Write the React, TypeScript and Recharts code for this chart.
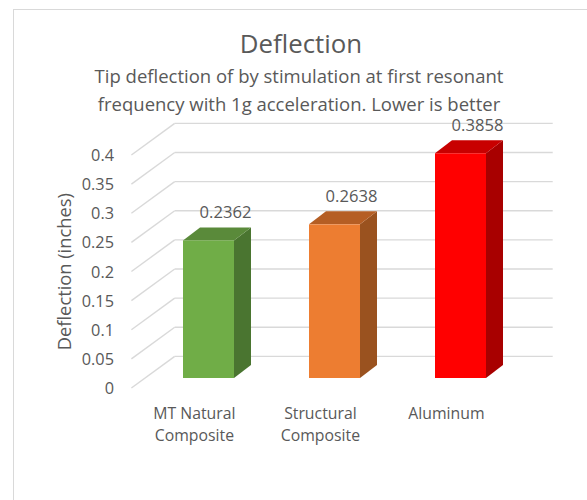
import React from 'react';
import { BarChart, Bar, XAxis, YAxis, CartesianGrid, LabelList } from 'recharts';

const categories = ['MT Natural Composite', 'Structural Composite', 'Aluminum'];
const labelLines = [['MT Natural', 'Composite'], ['Structural', 'Composite'], ['Aluminum']];
const deflection = [0.2362, 0.2638, 0.3858];
const yTicks = [0, 0.05, 0.1, 0.15, 0.2, 0.25, 0.3, 0.35, 0.4];

const data = categories.map((name, i) => ({ name, value: deflection[i] }));

const W = 587;
const H = 500;
const FONT = '"Open Sans", sans-serif';
const TEXT = '#595959';
const GRID = '#d9d9d9';

// oblique offsets relative to the plane the bars stand in
const FRONT = { dx: -13.6, dy: 10 };
const BACK = { dx: 29.7, dy: -21.6 };
const DEPTH = { dx: 17, dy: 13 };

const faces = [
  { front: '#70AD47', top: '#5A8A3A', side: '#4A7530' },
  { front: '#ED7D31', top: '#B55E24', side: '#9A521F' },
  { front: '#FF0000', top: '#C80000', side: '#A80000' },
];

const Bar3D = (p: any) => {
  const { x, y, width: w, height: h } = p;
  const c = faces[categories.indexOf(p.payload?.name)] ?? faces[0];
  const { dx, dy } = DEPTH;
  return (
    <g>
      <polygon points={`${x + w},${y} ${x + w + dx},${y - dy} ${x + w + dx},${y + h - dy} ${x + w},${y + h}`} fill={c.side} />
      <polygon points={`${x},${y} ${x + dx},${y - dy} ${x + w + dx},${y - dy} ${x + w},${y}`} fill={c.top} />
      <rect x={x} y={y} width={w} height={h} fill={c.front} />
    </g>
  );
};

const gridLine = (p: any) => {
  const { x1, x2, y1 } = p;
  return (
    <g key={`grid-${p.index}-${y1}`}>
      <line x1={x1 + FRONT.dx} y1={y1 + FRONT.dy} x2={x1 + BACK.dx} y2={y1 + BACK.dy} stroke={GRID} strokeWidth={1.4} />
      <line x1={x1 + BACK.dx} y1={y1 + BACK.dy} x2={x2 + BACK.dx} y2={y1 + BACK.dy} stroke={GRID} strokeWidth={1.4} />
    </g>
  );
};

const YTick = (p: any) => (
  <text x={114} y={p.y + FRONT.dy + 6} textAnchor="end" fontFamily={FONT} fontSize={16.3} fill={TEXT}>
    {String(p.payload.value)}
  </text>
);

const XTick = (p: any) => {
  const lines = labelLines[categories.indexOf(p.payload.value)] ?? [];
  const x = p.x + FRONT.dx;
  return (
    <g>
      {lines.map((l, i) => (
        <text key={i} x={x} y={419.3 + i * 21.6} textAnchor="middle" fontFamily={FONT} fontSize={15.8} fill={TEXT}>
          {l}
        </text>
      ))}
    </g>
  );
};

const ValueLabel = (p: any) => {
  const vb = p.viewBox ?? p;
  const x = (vb.x ?? p.x) + (vb.width ?? p.width) / 2 + DEPTH.dx;
  const y = (vb.y ?? p.y) - DEPTH.dy - 9;
  return (
    <text x={x} y={y} textAnchor="middle" fontFamily={FONT} fontSize={16.6} fill={TEXT}>
      {p.value}
    </text>
  );
};

export default function App() {
  return (
    <div style={{ position: 'absolute', left: 0, top: 0, width: W, height: H, background: '#fff' }}>
      <BarChart width={W} height={H} data={data} margin={{ top: 145, right: 64, bottom: 0, left: 0 }}>
        <CartesianGrid vertical={false} horizontal={gridLine} />
        <XAxis dataKey="name" axisLine={false} tickLine={false} interval={0} height={122} tick={XTick} />
        <YAxis domain={[0, 0.4]} ticks={yTicks} axisLine={false} tickLine={false} interval={0} width={145} tick={YTick} />
        <Bar dataKey="value" barSize={51} isAnimationActive={false} shape={Bar3D}>
          <LabelList dataKey="value" content={ValueLabel} />
        </Bar>
      </BarChart>
      <svg width={W} height={H} style={{ position: 'absolute', left: 0, top: 0, pointerEvents: 'none' }}>
        <line x1={13} y1={9.5} x2={W} y2={9.5} stroke={GRID} strokeWidth={1} />
        <line x1={13.5} y1={9.5} x2={13.5} y2={H} stroke={GRID} strokeWidth={1} />
        <text x={301} y={53.3} textAnchor="middle" fontFamily={FONT} fontSize={25.8} fill={TEXT}>Deflection</text>
        <text x={299} y={83.3} textAnchor="middle" fontFamily={FONT} fontSize={18.5} fill={TEXT}>
          Tip deflection of by stimulation at first resonant
        </text>
        <text x={299} y={110.5} textAnchor="middle" fontFamily={FONT} fontSize={18.5} fill={TEXT}>
          frequency with 1g acceleration. Lower is better
        </text>
        <text x={71} y={271.7} transform="rotate(-90, 71, 271.7)" textAnchor="middle" fontFamily={FONT} fontSize={18.3} fill={TEXT}>
          Deflection (inches)
        </text>
      </svg>
    </div>
  );
}
